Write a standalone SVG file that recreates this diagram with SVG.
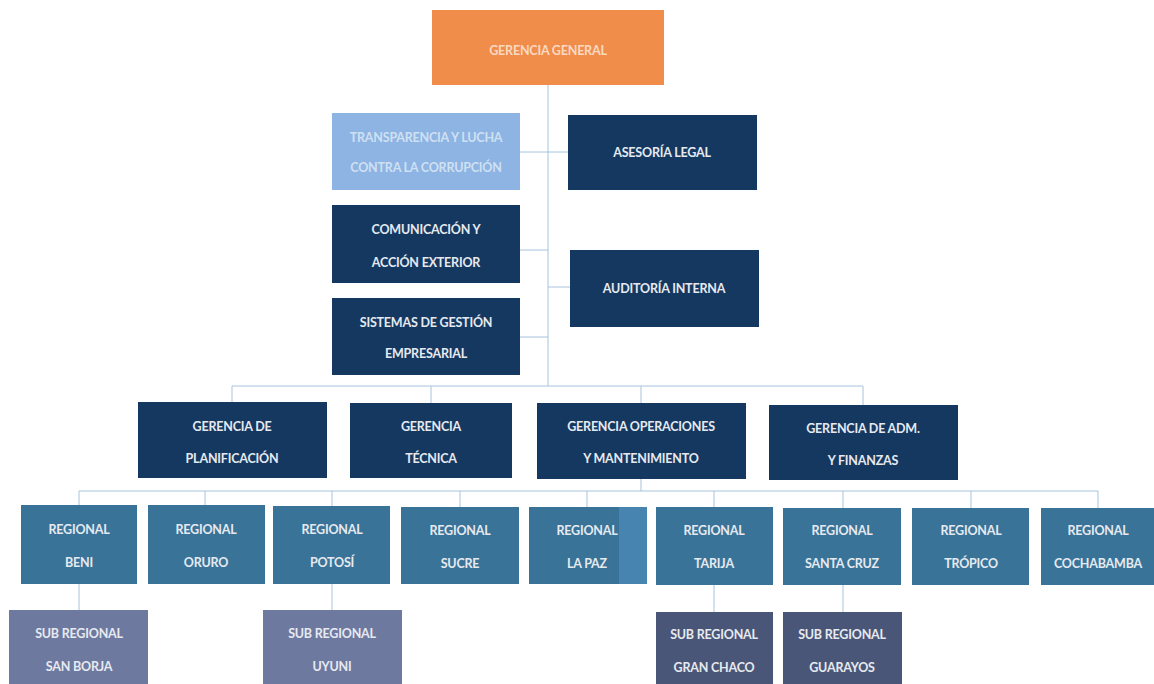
<svg xmlns="http://www.w3.org/2000/svg" width="1154" height="684" viewBox="0 0 1154 684">
<style>
text{font-family:Lato,"Open Sans","Liberation Sans",sans-serif;font-weight:700;font-size:12.5px;text-anchor:middle;fill:#E6EAF0;letter-spacing:-0.2px}
.or{fill:#F08D4B}
.lb{fill:#8DB4E2}
.nv{fill:#153860}
.rg{fill:#397398}
.sa{fill:#6E79A0}
.sb{fill:#4A5677}
.tl{fill:#CFE0F2}
.to{fill:#FAD9C2}
.cn line{stroke:#A8C3DD;stroke-width:1}
</style>
<rect width="1154" height="684" fill="#FFFFFF"/>
<g class="cn" id="connectors">
<line x1="548" y1="85" x2="548" y2="386"/>
<line x1="520" y1="152" x2="568" y2="152"/>
<line x1="520" y1="250" x2="548" y2="250"/>
<line x1="548" y1="287" x2="570" y2="287"/>
<line x1="520" y1="337" x2="548" y2="337"/>
<line x1="232" y1="386" x2="863" y2="386"/>
<line x1="232" y1="386" x2="232" y2="402"/>
<line x1="431" y1="386" x2="431" y2="403"/>
<line x1="641" y1="386" x2="641" y2="403"/>
<line x1="863" y1="386" x2="863" y2="405"/>
<line x1="641" y1="479" x2="641" y2="491"/>
<line x1="79" y1="491" x2="1098" y2="491"/>
<line x1="79" y1="491" x2="79" y2="505"/>
<line x1="205" y1="491" x2="205" y2="505"/>
<line x1="332" y1="491" x2="332" y2="506"/>
<line x1="460" y1="491" x2="460" y2="507"/>
<line x1="587" y1="491" x2="587" y2="507"/>
<line x1="714" y1="491" x2="714" y2="507"/>
<line x1="843" y1="491" x2="843" y2="508"/>
<line x1="971" y1="491" x2="971" y2="508"/>
<line x1="1098" y1="491" x2="1098" y2="508"/>
<line x1="79" y1="584" x2="79" y2="610"/>
<line x1="332" y1="584" x2="332" y2="610"/>
<line x1="714" y1="585" x2="714" y2="612"/>
<line x1="843" y1="585" x2="843" y2="612"/>
</g>
<g id="gerencia-general"><rect class="or" x="432" y="10" width="232" height="75"/><text class="to" x="548" y="55">GERENCIA GENERAL</text></g>
<g id="transparencia"><rect class="lb" x="332" y="113" width="188" height="77"/><text class="tl" x="426" y="142">TRANSPARENCIA Y LUCHA</text><text class="tl" x="426" y="172">CONTRA LA CORRUPCIÓN</text></g>
<g id="asesoria"><rect class="nv" x="568" y="115" width="189" height="75"/><text x="662" y="157">ASESORÍA LEGAL</text></g>
<g id="comunicacion"><rect class="nv" x="332" y="205" width="188" height="78"/><text x="426" y="234">COMUNICACIÓN Y</text><text x="426" y="267">ACCIÓN EXTERIOR</text></g>
<g id="auditoria"><rect class="nv" x="570" y="250" width="189" height="77"/><text x="664" y="293">AUDITORÍA INTERNA</text></g>
<g id="sistemas"><rect class="nv" x="332" y="298" width="188" height="77"/><text x="426" y="327">SISTEMAS DE GESTIÓN</text><text x="426" y="358">EMPRESARIAL</text></g>
<g id="planificacion"><rect class="nv" x="138" y="402" width="189" height="76"/><text x="232" y="431">GERENCIA DE</text><text x="232" y="463">PLANIFICACIÓN</text></g>
<g id="tecnica"><rect class="nv" x="350" y="403" width="162" height="75"/><text x="431" y="431">GERENCIA</text><text x="431" y="463">TÉCNICA</text></g>
<g id="operaciones"><rect class="nv" x="537" y="403" width="209" height="76"/><text x="641" y="431">GERENCIA OPERACIONES</text><text x="641" y="463">Y MANTENIMIENTO</text></g>
<g id="adm"><rect class="nv" x="769" y="405" width="189" height="75"/><text x="863" y="433">GERENCIA DE ADM.</text><text x="863" y="465">Y FINANZAS</text></g>
<g id="beni"><rect class="rg" x="21" y="505" width="116" height="79"/><text x="79" y="534">REGIONAL</text><text x="79" y="567">BENI</text></g>
<g id="oruro"><rect class="rg" x="148" y="505" width="117" height="79"/><text x="206" y="534">REGIONAL</text><text x="206" y="567">ORURO</text></g>
<g id="potosi"><rect class="rg" x="273" y="506" width="117" height="78"/><text x="332" y="534">REGIONAL</text><text x="332" y="567">POTOSÍ</text></g>
<g id="sucre"><rect class="rg" x="401" y="507" width="118" height="77"/><text x="460" y="535">REGIONAL</text><text x="460" y="568">SUCRE</text></g>
<g id="lapaz"><rect class="rg" x="529" y="507" width="118" height="77"/><rect x="619" y="507" width="28" height="77" fill="#4784B0"/><text x="587" y="535">REGIONAL</text><text x="587" y="568">LA PAZ</text></g>
<g id="tarija"><rect class="rg" x="656" y="507" width="117" height="78"/><text x="714" y="535">REGIONAL</text><text x="714" y="568">TARIJA</text></g>
<g id="santacruz"><rect class="rg" x="783" y="508" width="118" height="77"/><text x="842" y="535">REGIONAL</text><text x="842" y="568">SANTA CRUZ</text></g>
<g id="tropico"><rect class="rg" x="912" y="508" width="117" height="77"/><text x="971" y="535">REGIONAL</text><text x="971" y="568">TRÓPICO</text></g>
<g id="cochabamba"><rect class="rg" x="1041" y="508" width="113" height="77"/><text x="1098" y="535">REGIONAL</text><text x="1098" y="568">COCHABAMBA</text></g>
<g id="sanborja"><rect class="sa" x="9" y="610" width="139" height="74"/><text x="79" y="638">SUB REGIONAL</text><text x="79" y="671">SAN BORJA</text></g>
<g id="uyuni"><rect class="sa" x="263" y="610" width="139" height="74"/><text x="332" y="638">SUB REGIONAL</text><text x="332" y="671">UYUNI</text></g>
<g id="granchaco"><rect class="sb" x="656" y="612" width="117" height="72"/><text x="714" y="639">SUB REGIONAL</text><text x="714" y="672">GRAN CHACO</text></g>
<g id="guarayos"><rect class="sb" x="783" y="612" width="119" height="72"/><text x="842" y="639">SUB REGIONAL</text><text x="842" y="672">GUARAYOS</text></g>
</svg>
